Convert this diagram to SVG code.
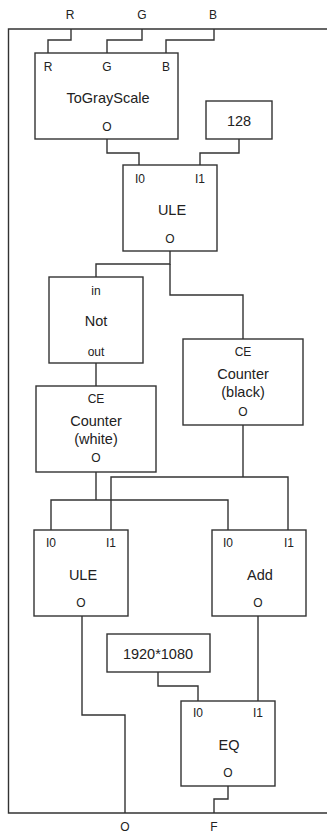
<svg xmlns="http://www.w3.org/2000/svg" width="327" height="833" viewBox="0 0 327 833">
<style>
.b{fill:#fff;stroke:#333;stroke-width:1.4}
.w{fill:none;stroke:#333;stroke-width:1.4}
text{font-family:"Liberation Sans",Arial,sans-serif;fill:#222;text-anchor:middle;dominant-baseline:central}
.s{font-size:12px}
.m{font-size:14.5px}
</style>
<rect width="327" height="833" fill="#fff"/>
<g id="frame">
<path class="w" d="M327,29 H8.5 V813 H327"/>
<text class="s" x="70" y="15">R</text>
<text class="s" x="142" y="15">G</text>
<text class="s" x="213" y="15">B</text>
<text class="s" x="125" y="827">O</text>
<text class="s" x="214" y="827">F</text>
</g>
<g id="connectors">
<path class="w" d="M71,29 V40 H48 V53"/>
<path class="w" d="M142,29 V40 H107 V53"/>
<path class="w" d="M214,29 V40 H166 V53"/>
<path class="w" d="M107,139 V153 H139 V165"/>
<path class="w" d="M239,139 V153 H200 V165"/>
<path class="w" d="M170,251 V264 H96 V277"/>
<path class="w" d="M170,264 V295 H243 V339"/>
<path class="w" d="M96,363 V386"/>
<path class="w" d="M96,472 V500"/>
<path class="w" d="M51,530 V500 H228 V530"/>
<path class="w" d="M243,425 V477"/>
<path class="w" d="M111,530 V477 H288 V530"/>
<path class="w" d="M82,616 V715 H125 V813"/>
<path class="w" d="M258,616 V701"/>
<path class="w" d="M158,672 V686 H198 V701"/>
<path class="w" d="M228,786 V799 H214 V813"/>
</g>
<g id="togray">
<rect class="b" x="35" y="53" width="143" height="86"/>
<text class="s" x="48" y="67">R</text>
<text class="s" x="107" y="67">G</text>
<text class="s" x="166" y="67">B</text>
<text class="m" x="108" y="98">ToGrayScale</text>
<text class="s" x="107" y="127">O</text>
</g>
<g id="c128">
<rect class="b" x="206" y="101" width="66" height="38"/>
<text class="m" x="239" y="121">128</text>
</g>
<g id="ule1">
<rect class="b" x="123" y="165" width="94" height="86"/>
<text class="s" x="140" y="179">I0</text>
<text class="s" x="200" y="179">I1</text>
<text class="m" x="172" y="210">ULE</text>
<text class="s" x="170" y="239">O</text>
</g>
<g id="not">
<rect class="b" x="49" y="277" width="94" height="86"/>
<text class="s" x="96" y="291">in</text>
<text class="m" x="96" y="321">Not</text>
<text class="s" x="96" y="352">out</text>
</g>
<g id="cblack">
<rect class="b" x="183" y="339" width="120" height="86"/>
<text class="s" x="243" y="352">CE</text>
<text class="m" x="243" y="374">Counter</text>
<text class="m" x="243" y="392">(black)</text>
<text class="s" x="243" y="412">O</text>
</g>
<g id="cwhite">
<rect class="b" x="36" y="386" width="120" height="86"/>
<text class="s" x="96" y="399">CE</text>
<text class="m" x="96" y="421">Counter</text>
<text class="m" x="96" y="439">(white)</text>
<text class="s" x="96" y="458">O</text>
</g>
<g id="ule2">
<rect class="b" x="34" y="530" width="94" height="86"/>
<text class="s" x="51" y="543">I0</text>
<text class="s" x="111" y="543">I1</text>
<text class="m" x="83" y="575">ULE</text>
<text class="s" x="81" y="603">O</text>
</g>
<g id="add">
<rect class="b" x="212" y="530" width="94" height="86"/>
<text class="s" x="228" y="543">I0</text>
<text class="s" x="289" y="543">I1</text>
<text class="m" x="260" y="575">Add</text>
<text class="s" x="258" y="603">O</text>
</g>
<g id="c1920">
<rect class="b" x="107" y="634" width="103" height="38"/>
<text class="m" x="158" y="654">1920*1080</text>
</g>
<g id="eq">
<rect class="b" x="181" y="701" width="94" height="85"/>
<text class="s" x="198" y="713">I0</text>
<text class="s" x="258" y="713">I1</text>
<text class="m" x="229" y="745">EQ</text>
<text class="s" x="228" y="773">O</text>
</g>
</svg>
